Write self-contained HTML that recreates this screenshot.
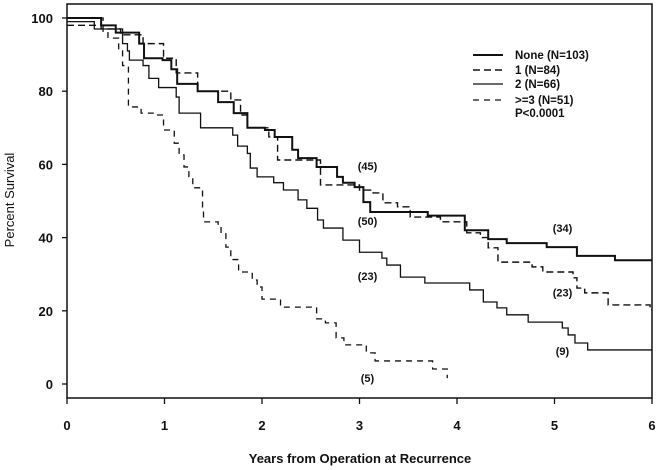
<!DOCTYPE html>
<html><head><meta charset="utf-8"><style>
html,body{margin:0;padding:0;background:#fff}
svg{display:block;font-family:"Liberation Sans",Arial,sans-serif}
</style></head><body>
<svg id="chart" width="658" height="470" viewBox="0 0 658 470">
<g id="axes"></g><g id="series"></g><g id="annot"></g>
</svg>
<script>
const xTicks=[0,1,2,3,4,5,6];
const yTicks=[0,20,40,60,80,100];
const seriesNames=["None (N=103)","1 (N=84)","2 (N=66)",">=3 (N=51)"];
const noneT=[0,0.35,0.5,0.74,0.79,0.98,1.07,1.13,1.34,1.55,1.71,1.85,2.03,2.13,2.31,2.37,2.56,2.77,2.83,2.95,3.04,3.11,3.7,4.08,4.32,4.51,4.92,5.23,5.62,6];
const noneS=[100,98,96,93,89,88.5,86,82,80,77,74,70,69.4,67.5,64,61.7,59.3,56.6,55,53.8,49.7,47,46,42,39.6,38.5,37.4,35,33.8,33.8];
const oneT=[0,0.35,0.55,0.78,0.99,1.12,1.34,1.68,1.78,1.85,2.07,2.16,2.6,3.0,3.14,3.24,3.39,3.52,3.83,4.1,4.24,4.32,4.42,4.77,4.88,5.19,5.23,5.31,5.55,5.98,6];
const oneS=[98,97,95.4,93,89,85,80,77.6,73.5,70,67.5,61.2,54.4,53,52.2,49.5,48.4,45.6,44.3,41.3,40,37.2,33.3,32,30.6,29,26.2,24.9,21.6,20.2,20.2];
const twoT=[0,0.28,0.57,0.62,0.64,0.78,0.84,0.94,1.12,1.15,1.37,1.7,1.75,1.85,1.88,1.95,2.12,2.22,2.37,2.46,2.57,2.63,2.83,3.0,3.23,3.28,3.42,3.67,4.13,4.27,4.41,4.51,4.73,5.08,5.14,5.21,5.34,6];
const twoS=[99,97,93,91,88.5,87,83.5,81,78.4,74,70,68,65,63,59,56.6,55,53,50.3,48,44.8,42.6,39.3,36,34.4,32.5,29.2,27.6,25.7,22.4,20.8,18.9,16.9,15.3,13.4,11.2,9.3,9.3];
const threeT=[0,0.37,0.42,0.53,0.57,0.63,0.76,0.93,0.99,1.1,1.15,1.2,1.25,1.29,1.39,1.4,1.55,1.58,1.63,1.68,1.76,1.9,1.95,2.0,2.19,2.56,2.65,2.76,2.84,3.07,3.16,3.75,3.9];
const threeS=[100,96,94.5,91,87,75.7,74,73.5,69.4,65.8,62.6,59.3,56.3,53.6,48.4,44.3,43,41,37.4,34,30.6,28.4,26.5,23.2,21,17.8,16.7,12.6,10.7,8.5,6.3,4.1,1.6];
const labelX=[3,3,3,3,5,5,5];
const labelS=[59.5,44.5,29.5,1.6,42.6,25,9];
const labelText=["(45)","(50)","(23)","(5)","(34)","(23)","(9)"];

const X0=67,X1=652,Y0=384,Y1=18;
const xs=t=>X0+(X1-X0)*t/6;
const ys=s=>Y0-(Y0-Y1)*s/100;
const NS="http://www.w3.org/2000/svg";
function mk(tag,attrs,parent,txt){const e=document.createElementNS(NS,tag);for(const k in attrs)e.setAttribute(k,attrs[k]);if(txt!==undefined)e.textContent=txt;parent.appendChild(e);return e;}
const ax=document.getElementById('axes');
let f=mk('rect',{x:X0,y:4,width:X1-X0,height:394,fill:'none',stroke:'#111','stroke-width':1.5},ax);


xTicks.forEach(v=>{
 let l=mk('line',{x1:xs(v),x2:xs(v),y1:398,y2:404,stroke:'#111','stroke-width':1.3},ax);
 
 
 let t=mk('text',{x:xs(v),y:430,'text-anchor':'middle','font-size':13,'font-weight':'bold',fill:'#111'},ax,String(v));
 
 
});
yTicks.forEach(v=>{
 let l=mk('line',{x1:62,x2:X0,y1:ys(v),y2:ys(v),stroke:'#111','stroke-width':1.3},ax);
 
 
 let t=mk('text',{x:53,y:ys(v)+5,'text-anchor':'end','font-size':13,'font-weight':'bold',fill:'#111'},ax,String(v));
 
 
});
let xt=mk('text',{x:360,y:463,'text-anchor':'middle','font-size':13,'font-weight':'bold',fill:'#111'},ax,'Years from Operation at Recurrence');


let yt=mk('text',{x:14,y:200,'text-anchor':'middle','font-size':13,fill:'#111',transform:'rotate(-90 14 200)'},ax,'Percent Survival');



const styles=[{w:2,d:''},{w:1.4,d:'7 4'},{w:1.3,d:''},{w:1.3,d:'6 5'}];
const data=[[noneT,noneS],[oneT,oneS],[twoT,twoS],[threeT,threeS]];
const sg=document.getElementById('series');
data.forEach((d,i)=>{
 const [T,S]=d;let p='M'+xs(T[0])+','+ys(S[0]);
 for(let k=1;k<T.length;k++){p+=' H'+xs(T[k])+' V'+ys(S[k]);}
 let path=mk('path',{d:p,fill:'none',stroke:'#111','stroke-width':styles[i].w,'stroke-dasharray':styles[i].d},sg);
 
 
 const ly=[55,70,84,100][i];
 let ll=mk('line',{x1:473,x2:503,y1:ly,y2:ly,stroke:'#111','stroke-width':styles[i].w,'stroke-dasharray':styles[i].d},sg);
 
 
 let lt=mk('text',{x:515,y:ly+4,'font-size':11.5,'font-weight':'bold',fill:'#111'},sg,seriesNames[i]);
 
 
});
let pv=mk('text',{x:515,y:117,'font-size':11.5,'font-weight':'bold',fill:'#111'},sg,'P<0.0001');


const an=document.getElementById('annot');
labelText.forEach((s,i)=>{
 let t=mk('text',{x:xs(labelX[i])+8,y:ys(labelS[i])+4,'text-anchor':'middle','font-size':11,'font-weight':'bold',fill:'#111'},an,s);
 
 
});
</script>
</body></html>
